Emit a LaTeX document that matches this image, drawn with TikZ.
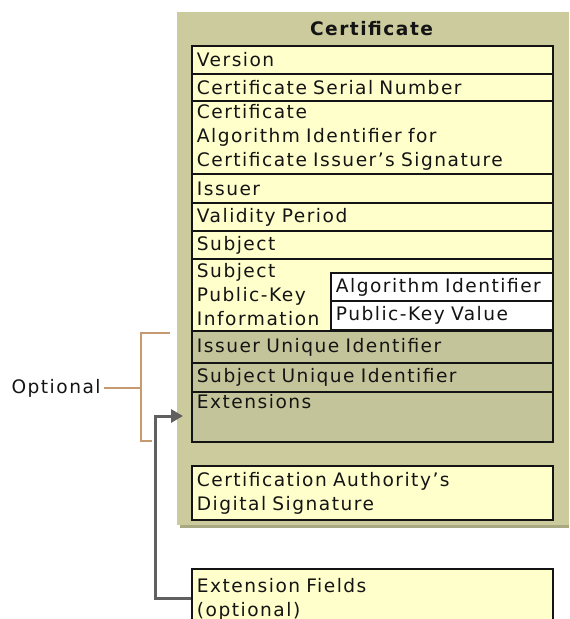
\documentclass[tikz,border=0pt]{standalone}
\usepackage{fontspec}
\setmainfont{DejaVu Sans}[LetterSpace=8]
\usetikzlibrary{arrows.meta}
\definecolor{ink}{HTML}{141414}
\definecolor{panel}{HTML}{CBCB9D}
\definecolor{pshad}{HTML}{A8A882}
\definecolor{cell}{HTML}{FFFFCC}
\definecolor{optc}{HTML}{C4C49A}
\definecolor{tan}{HTML}{C69A70}
\definecolor{lk}{HTML}{606060}
\newcommand{\fs}{\fontsize{9.3}{12}\selectfont}
\tikzset{
  fld/.style={draw=ink,fill=cell,line width=0.95pt,anchor=north west,minimum width=180.5pt,text width=175.5pt,align=left,inner xsep=2.5pt,inner ysep=0pt,font=\fs,text=ink},
  ofld/.style={fld,fill=optc},
  kfld/.style={fld,fill=white,minimum width=111pt,text width=106pt},
  head/.style={font=\fs\bfseries,inner sep=1pt,text=ink},
  lab/.style={font=\fs,inner sep=1.5pt,text=ink},
  brk/.style={line width=1.1pt,tan},
  lnk/.style={-{Triangle[length=6pt,width=6.5pt]},line width=1.5pt,lk}
}

\begin{document}
\begin{tikzpicture}[x=0.5pt,y=-0.5pt]
\useasboundingbox (0,0) rectangle (569,619);
% ================= panel =================
\fill[pshad] (180,12) rectangle (569,528);
\fill[panel] (177,12) rectangle (569,525);
\node[head] (title) at (371.5,29) {Certificate};
% ================= fields =================
\node[fld,minimum height=14pt] (ver) at (191,45) {Version};
\node[fld,minimum height=13.5pt] (ser) at (191,73) {Certificate Serial Number};
\node[fld,minimum height=36.5pt] (alg) at (191,100) {Certificate\\Algorithm Identifier for\\Certificate Issuer’s Signature};
\node[fld,minimum height=14.5pt] (iss) at (191,173) {Issuer};
\node[fld,minimum height=14pt] (val) at (191,202) {Validity Period};
\node[fld,minimum height=14pt] (sub) at (191,230) {Subject};
\node[fld,minimum height=36pt] (spk) at (191,258) {Subject\\Public-Key\\Information};
\node[kfld,minimum height=14pt] (kalg) at (330,272) {Algorithm Identifier};
\node[kfld,minimum height=14.5pt] (kval) at (330,300) {Public-Key Value};
% optional fields
\node[ofld,minimum height=16pt] (iuid) at (191,330) {Issuer Unique Identifier};
\node[ofld,minimum height=14.5pt] (suid) at (191,362) {Subject Unique Identifier};
\node[ofld,minimum height=25pt,text height=7pt,text depth=15pt] (ext) at (191,391) {Extensions};
\node[fld,minimum height=27pt] (casig) at (191,465) {Certification Authority’s\\Digital Signature};
% ================= extension fields =================
\node[fld,minimum height=30pt] (extf) at (191,568) {Extension Fields\\(optional)};
% ================= bracket and link =================
\node[lab,anchor=east] (opt) at (104,388) {Optional};
\coordinate (btop) at (170,333);
\coordinate (bbot) at (152,441);
\coordinate (bmid) at (141,388);
\draw[brk] (btop) -- (bmid |- btop) -- (bmid |- bbot) -- (bbot);
\draw[brk] (opt.east) -- (opt.east -| bmid);
\coordinate (etip) at (183,416);
\draw[lnk] (extf.west) -- ++(-36,0) |- (etip);
\end{tikzpicture}
\end{document}
